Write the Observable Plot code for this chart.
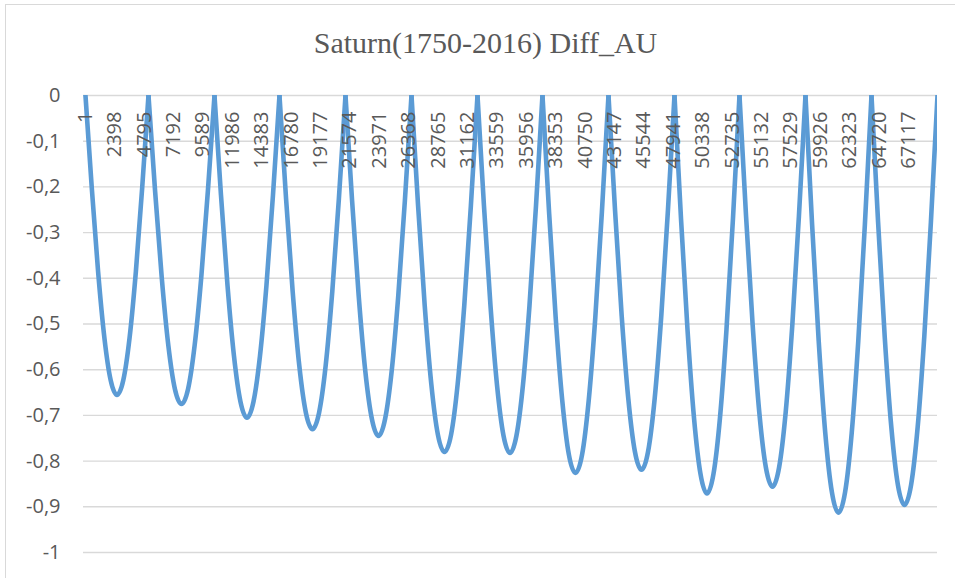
<!DOCTYPE html>
<html>
<head>
<meta charset="utf-8">
<script src="https://cdn.jsdelivr.net/npm/d3@7"></script>
<script src="https://cdn.jsdelivr.net/npm/@observablehq/plot@0.6"></script>
<style>
  html, body { margin: 0; padding: 0; background: #fff; overflow: hidden; }
  #wrap { position: relative; width: 955px; height: 578px; overflow: hidden; background: #fff; }
  #border { position: absolute; left: 5px; top: 4px; width: 1000px; height: 700px; border: 1.5px solid #d9d9d9; box-sizing: border-box; }
  #title { position: absolute; left: 0; top: 25px; width: 971px; text-align: center;
           font-family: "Liberation Serif", "Times New Roman", serif; font-size: 30px; color: #595959; line-height: 36px; }
  #chart { position: absolute; left: 0; top: 0; }
</style>
</head>
<body>
<div id="wrap">
  <div id="border"></div>
  <div id="chart"></div>
  <div id="title">Saturn(1750-2016) Diff_AU</div>
</div>
<script>
// Category tick labels (every 2397th point)
const xTickLabels = [1, 2398, 4795, 7192, 9589, 11986, 14383, 16780, 19177, 21574, 23971, 26368,
  28765, 31162, 33559, 35956, 38353, 40750, 43147, 45544, 47941, 50338, 52735, 55132, 57529,
  59926, 62323, 64720, 67117];
// Y tick values
const yTicks = [0, -0.1, -0.2, -0.3, -0.4, -0.5, -0.6, -0.7, -0.8, -0.9, -1];
// Point indices where the curve touches 0
const zeroPoints = [1, 5139, 10521, 15821, 21204, 26586, 31968, 37268, 42651, 48033, 53333, 58716, 64098, 69481];
const dipSamples = [
  [0, -0.202, -0.385, -0.530, -0.623, -0.655, -0.623, -0.530, -0.385, -0.202, 0],
  [0, -0.209, -0.397, -0.546, -0.642, -0.675, -0.642, -0.546, -0.397, -0.209, 0],
  [0, -0.218, -0.415, -0.570, -0.670, -0.705, -0.670, -0.570, -0.415, -0.218, 0],
  [0, -0.226, -0.429, -0.591, -0.694, -0.730, -0.694, -0.591, -0.429, -0.226, 0],
  [0, -0.230, -0.438, -0.603, -0.708, -0.745, -0.708, -0.603, -0.438, -0.230, 0],
  [0, -0.241, -0.459, -0.631, -0.742, -0.780, -0.742, -0.631, -0.459, -0.241, 0],
  [0, -0.242, -0.460, -0.633, -0.744, -0.782, -0.744, -0.633, -0.460, -0.242, 0],
  [0, -0.255, -0.486, -0.668, -0.786, -0.826, -0.786, -0.668, -0.486, -0.255, 0],
  [0, -0.253, -0.482, -0.663, -0.779, -0.819, -0.779, -0.663, -0.482, -0.253, 0],
  [0, -0.269, -0.512, -0.705, -0.828, -0.871, -0.828, -0.705, -0.512, -0.269, 0],
  [0, -0.265, -0.503, -0.693, -0.814, -0.856, -0.814, -0.693, -0.503, -0.265, 0],
  [0, -0.282, -0.537, -0.739, -0.868, -0.913, -0.868, -0.739, -0.537, -0.282, 0],
  [0, -0.277, -0.527, -0.725, -0.852, -0.896, -0.852, -0.725, -0.527, -0.277, 0]
];

// Build table
const rows = [];
dipSamples.forEach((vals, k) => {
  const s = zeroPoints[k], e = zeroPoints[k + 1], n = vals.length - 1;
  vals.forEach((v, j) => rows.push({arch: k, idx: s + (e - s) * j / n, value: v}));
});

const fmtY = d => d === 0 ? "0" : (Number.isInteger(d) ? String(d) : d.toFixed(1).replace(".", ","));
const font = "'Open Sans', 'Liberation Sans', sans-serif";

const chart = Plot.plot({
  width: 955,
  height: 578,
  marginTop: 95,
  marginBottom: 26,
  marginLeft: 83,
  marginRight: 18,
  style: {background: "transparent", fontFamily: font, color: "#595959", overflow: "visible"},
  x: {domain: [-160, 69481], axis: null},
  y: {domain: [-1, 0]},
  marks: [
    Plot.ruleY(yTicks, {stroke: "#d9d9d9", strokeWidth: 1.4}),
    Plot.axisY({ticks: yTicks, tickFormat: fmtY, tickSize: 0, tickPadding: 23, fontSize: 20, fill: "#595959", label: null}),
    Plot.line(rows, {x: "idx", y: "value", z: "arch", stroke: "#5b9bd5", strokeWidth: 4.6,
      curve: "monotone-x", clip: true, strokeLinejoin: "round"}),
    Plot.text(xTickLabels, {x: d => d, text: d => String(d), frameAnchor: "top", dy: 16, rotate: -90,
      textAnchor: "end", lineAnchor: "middle", fontSize: 20, fill: "#595959"})
  ]
});
document.getElementById("chart").appendChild(chart);
</script>
</body>
</html>
